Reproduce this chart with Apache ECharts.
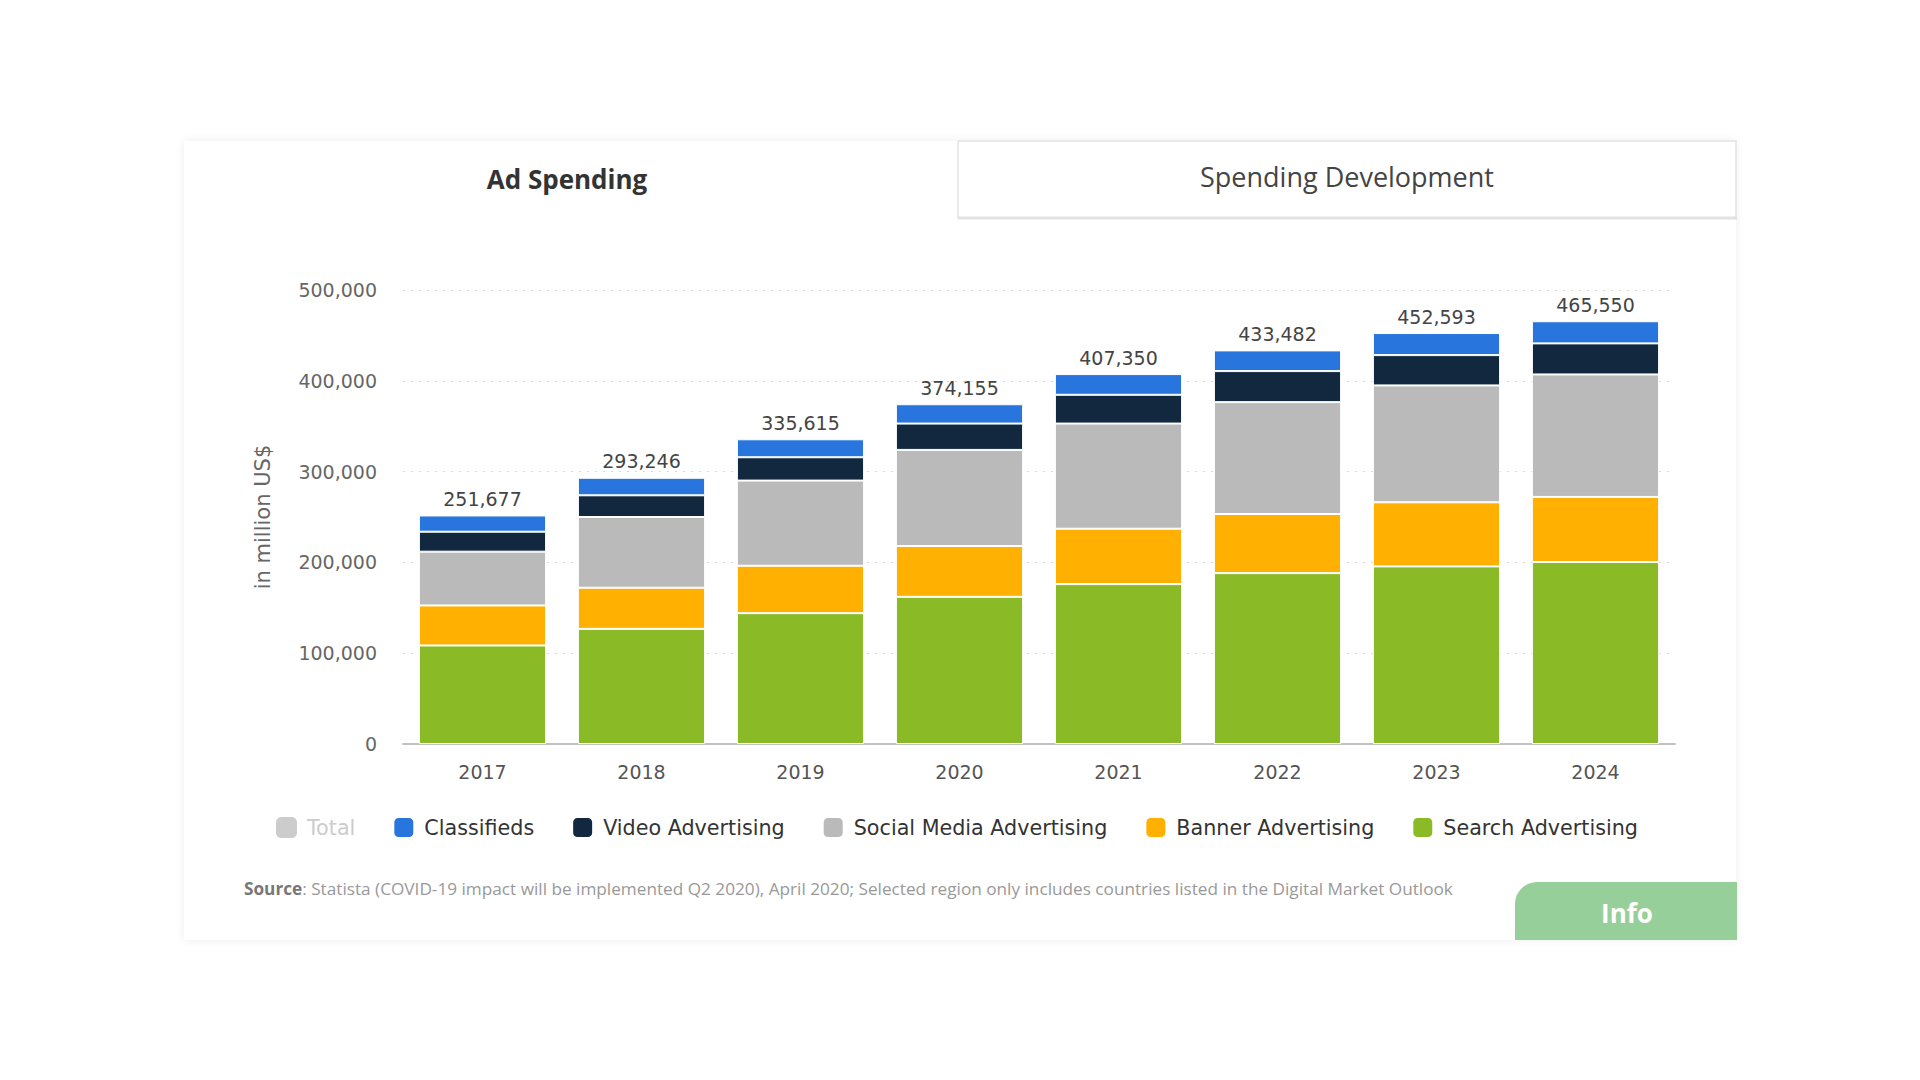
<!DOCTYPE html>
<html>
<head>
<meta charset="utf-8">
<title>Ad Spending</title>
<script src="https://cdn.jsdelivr.net/npm/echarts@6/dist/echarts.min.js"></script>
<style>
  html, body { margin: 0; padding: 0; background: #ffffff; }
  #chart { width: 1920px; height: 1080px; }
</style>
</head>
<body>
<div id="chart"></div>
<script>
// ---- data (million US$) ----
var years = ['2017', '2018', '2019', '2020', '2021', '2022', '2023', '2024'];
var searchAdvertising = [108500, 126800, 144100, 162100, 176100, 188200, 195600, 200400];
var bannerAdvertising = [44100, 45300, 52200, 55900, 61000, 65100, 70600, 71700];
var socialMediaAdvertising = [59200, 77900, 93800, 105900, 115800, 123200, 128700, 134900];
var videoAdvertising = [22000, 23900, 25700, 29000, 31700, 34200, 33400, 34200];
var classifieds = [17900, 19300, 19800, 21300, 22800, 22800, 24300, 24400];
var totals = [251677, 293246, 335615, 374155, 407350, 433482, 452593, 465550];
var yTicks = [0, 100000, 200000, 300000, 400000, 500000];

var FONT = 'DejaVu Sans';
function fmt(v) { return String(v).replace(/\B(?=(\d{3})+(?!\d))/g, ','); }

var chart = echarts.init(document.getElementById('chart'), null, { renderer: 'svg' });

function seg(name, data, color, extra) {
  var s = {
    name: name,
    type: 'bar',
    stack: 'spend',
    data: data,
    barCategoryGap: '20%',
    itemStyle: { color: color, borderColor: '#ffffff', borderWidth: 1 },
    emphasis: { disabled: true }
  };
  if (extra) { for (var k in extra) s[k] = extra[k]; }
  return s;
}

var option = {
  animation: false,
  backgroundColor: '#ffffff',
  textStyle: { fontFamily: FONT },
  graphic: [
    { type: 'rect', z: -20, silent: true,
      shape: { x: 184, y: 141, width: 1552, height: 799 },
      style: { fill: '#ffffff', shadowBlur: 8, shadowColor: 'rgba(0,0,0,0.07)', shadowOffsetX: 0, shadowOffsetY: 0 } },
    { type: 'rect', z: -15, silent: true,
      shape: { x: 958, y: 141, width: 778, height: 77 },
      style: { fill: '#ffffff', stroke: '#e4e4e4', lineWidth: 1.5 } },
    { type: 'line', z: -14, silent: true,
      shape: { x1: 958, y1: 218, x2: 1737, y2: 218 },
      style: { stroke: '#e2e2e2', lineWidth: 3 } },
    { type: 'text', z: 10, silent: true, x: 567, y: 179,
      style: { text: 'Ad Spending', fill: '#333333', font: 'bold 26px "Open Sans"', align: 'center', verticalAlign: 'middle' } },
    { type: 'text', z: 10, silent: true, x: 1347, y: 176,
      style: { text: 'Spending Development', fill: '#444444', font: '27px "Open Sans"', align: 'center', verticalAlign: 'middle' } },
    { type: 'text', z: 10, silent: true, x: 244, y: 888,
      style: { text: '{b|Source}: Statista (COVID-19 impact will be implemented Q2 2020), April 2020; Selected region only includes countries listed in the Digital Market Outlook',
        fill: '#999999', fontFamily: 'Open Sans', fontSize: 17.2, align: 'left', verticalAlign: 'middle',
        rich: { b: { fontFamily: 'Open Sans', fontSize: 17.2, fontWeight: 'bold', fill: '#777777' } } } },
    { type: 'rect', z: 5, silent: true,
      shape: { x: 1515, y: 882, width: 222, height: 58, r: [22, 0, 0, 0] },
      style: { fill: '#97cf9a' } },
    { type: 'text', z: 10, silent: true, x: 1627, y: 913,
      style: { text: 'Info', fill: '#ffffff', font: 'bold 26px "Open Sans"', align: 'center', verticalAlign: 'middle',
        shadowBlur: 3, shadowColor: 'rgba(0,0,0,0.15)', shadowOffsetY: 1 } }
  ],
  grid: { left: 403, right: 245, top: 290, bottom: 336, containLabel: false },
  legend: {
    left: 271,
    top: 811,
    itemWidth: 21,
    itemHeight: 21,
    itemGap: 37,
    icon: 'roundRect',
    inactiveColor: '#cccccc',
    selectedMode: true,
    data: ['Total', 'Classifieds', 'Video Advertising', 'Social Media Advertising', 'Banner Advertising', 'Search Advertising'],
    selected: { 'Total': false },
    textStyle: { fontFamily: FONT, fontSize: 20.7, color: '#333333', padding: [0, 0, 0, 5] }
  },
  xAxis: {
    type: 'category',
    data: years,
    axisTick: { show: false },
    axisLine: { lineStyle: { color: '#c2c2c2', width: 2 } },
    axisLabel: { color: '#555555', fontFamily: FONT, fontSize: 19, margin: 18 }
  },
  yAxis: {
    type: 'value',
    min: yTicks[0],
    max: yTicks[yTicks.length - 1],
    interval: yTicks[1] - yTicks[0],
    name: 'in million US$',
    nameLocation: 'middle',
    nameGap: 130,
    nameTextStyle: { color: '#666666', fontFamily: FONT, fontSize: 21 },
    axisLine: { show: false },
    axisTick: { show: false },
    axisLabel: { color: '#666666', fontFamily: FONT, fontSize: 19, margin: 26, formatter: function (v) { return fmt(v); } },
    splitLine: { lineStyle: { color: '#d9d9d9', type: [2, 6], width: 1 } }
  },
  series: [
    { name: 'Total', type: 'bar', stack: 'total', data: totals, itemStyle: { color: '#cccccc' }, barCategoryGap: '20%' },
    seg('Search Advertising', searchAdvertising, '#8abb26'),
    seg('Banner Advertising', bannerAdvertising, '#ffb000'),
    seg('Social Media Advertising', socialMediaAdvertising, '#bababa'),
    seg('Video Advertising', videoAdvertising, '#11283f'),
    seg('Classifieds', classifieds, '#2876dd', {
      label: {
        show: true,
        position: 'top',
        distance: 7,
        color: '#444444',
        fontFamily: FONT,
        fontSize: 19,
        formatter: function (p) { return fmt(totals[p.dataIndex]); }
      }
    })
  ]
};

chart.setOption(option);
</script>
</body>
</html>
